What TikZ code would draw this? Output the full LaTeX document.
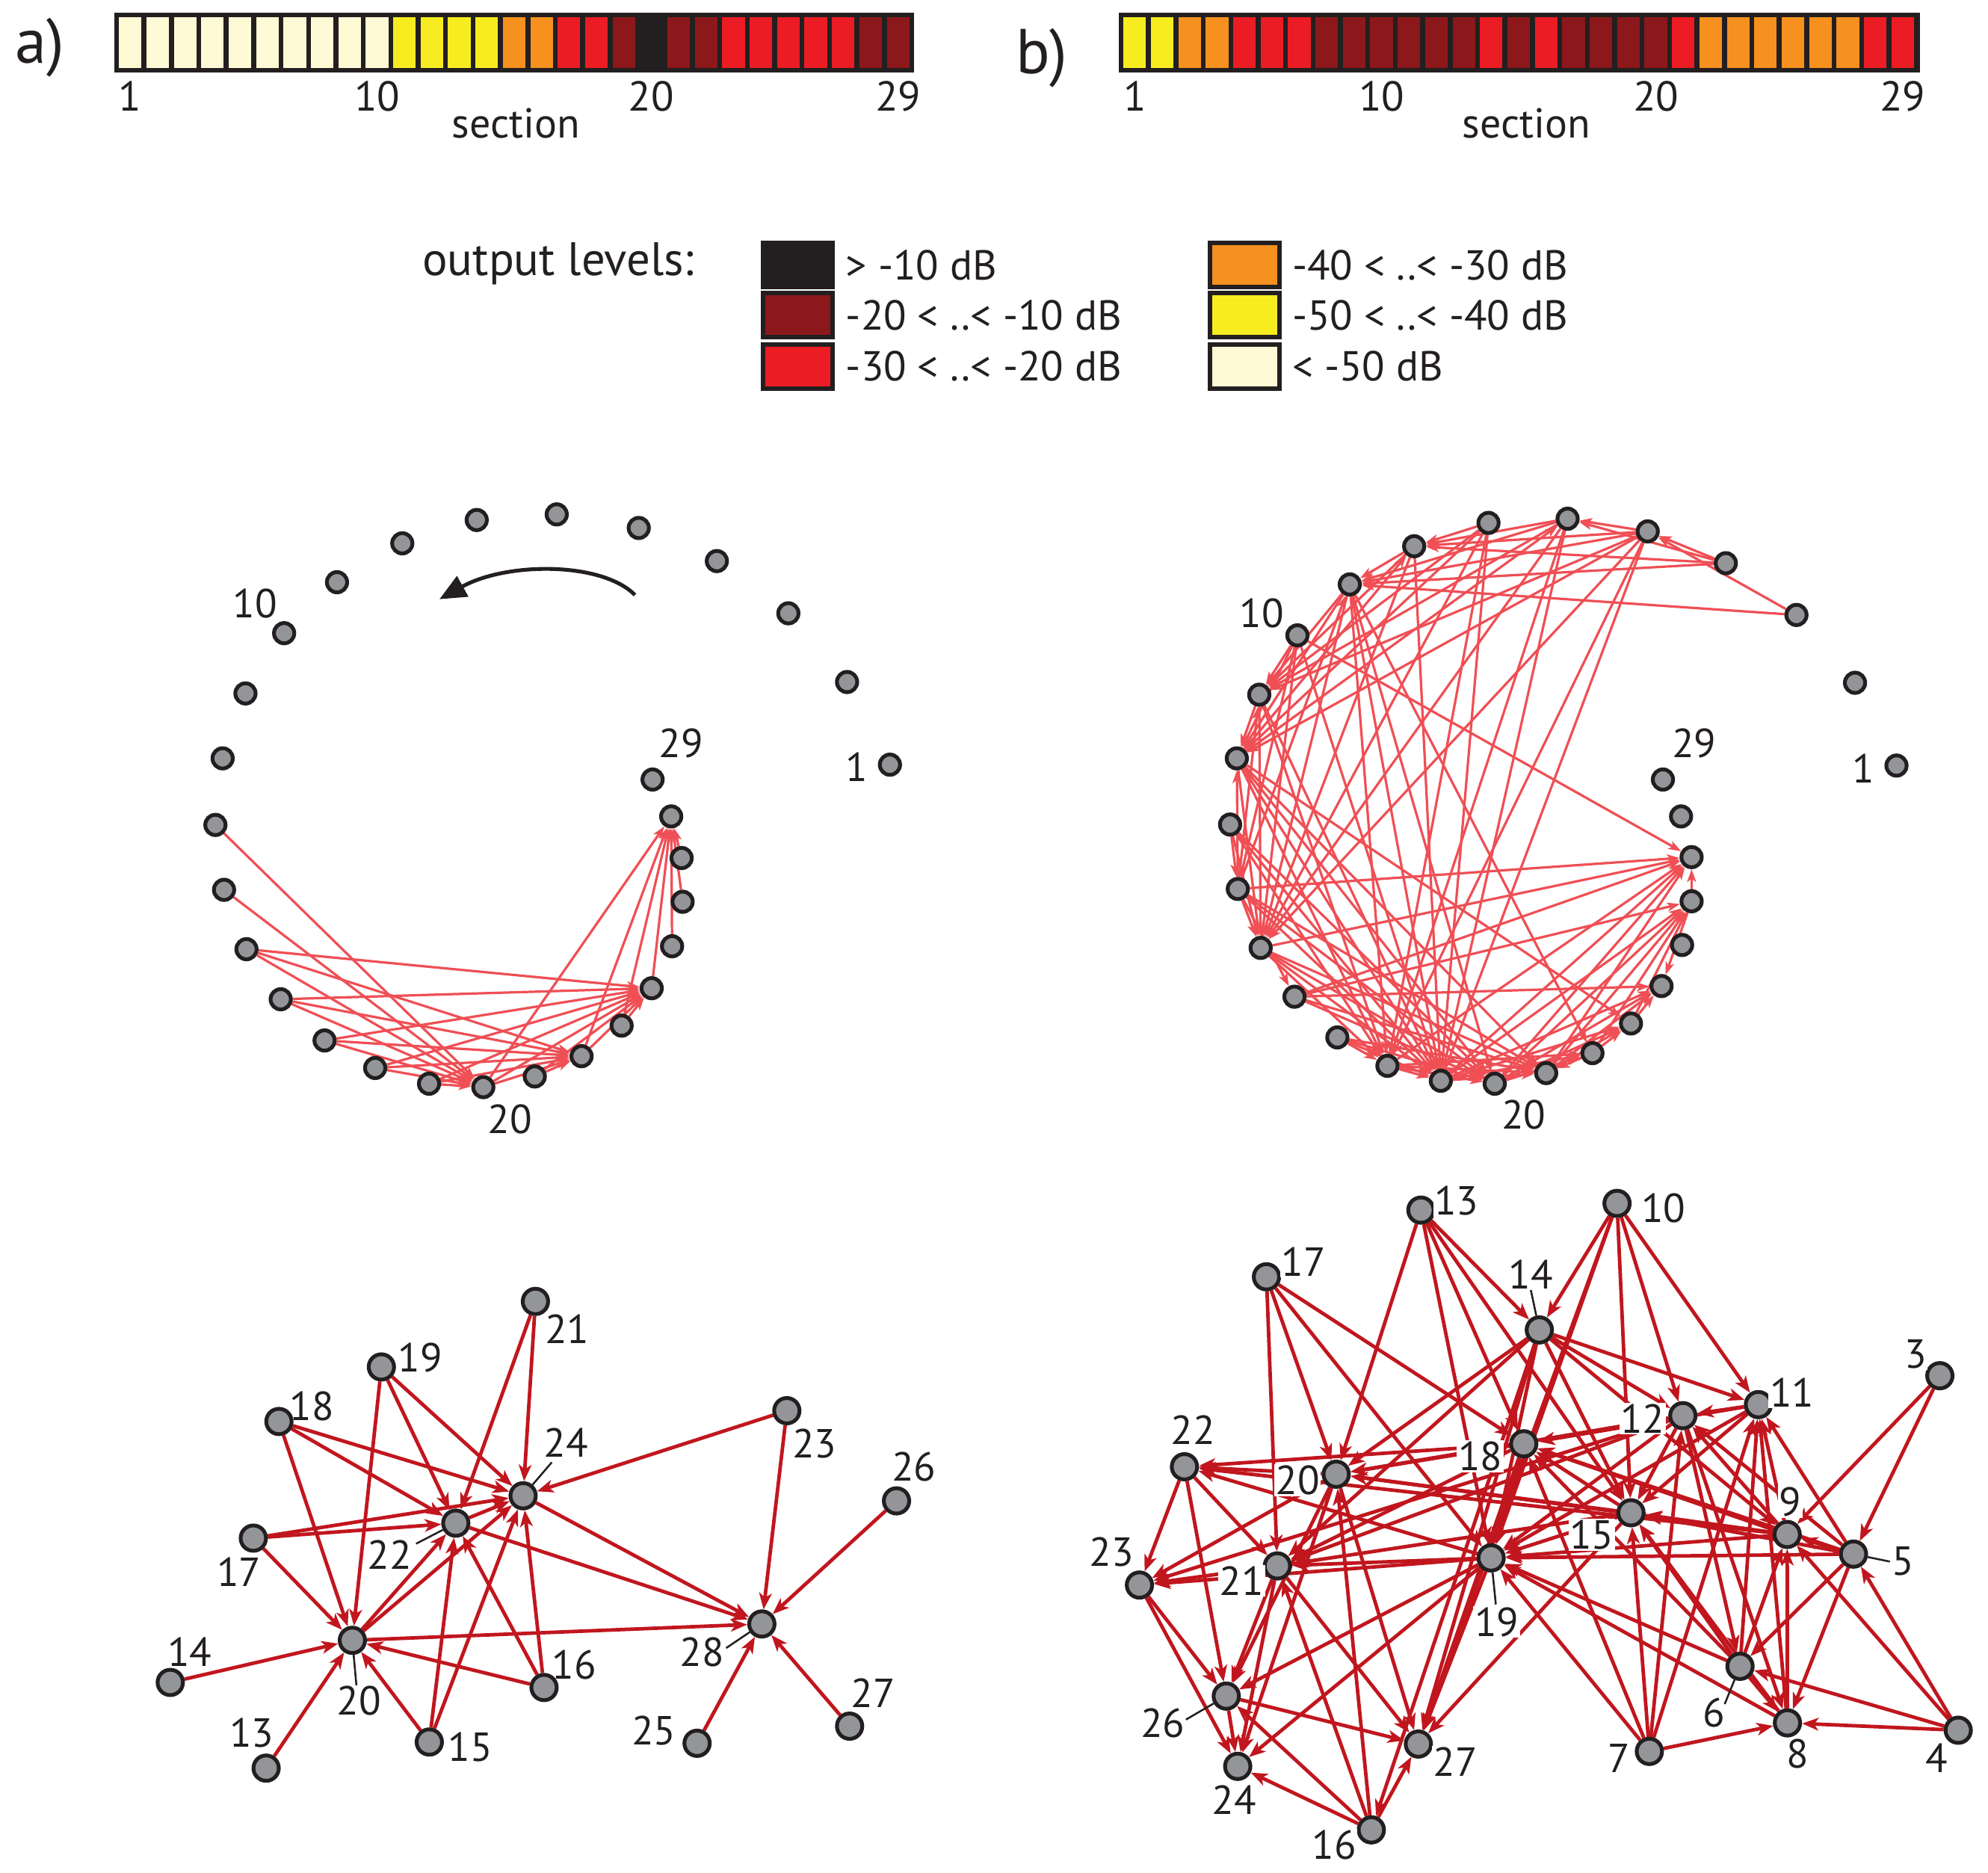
\documentclass[tikz,border=0pt]{standalone}
\usepackage{fontspec}
\setmainfont{PT Sans}
\usetikzlibrary{arrows.meta}
\pgfdeclarelayer{edges}
\pgfsetlayers{edges,main}
\definecolor{cream}{HTML}{FFFAD6}
\definecolor{yel}{HTML}{F7EC1F}
\definecolor{org}{HTML}{F6901F}
\definecolor{rd}{HTML}{EC1C24}
\definecolor{drd}{HTML}{8C181B}
\definecolor{blk}{HTML}{231F20}
\definecolor{ndgray}{HTML}{939598}
\definecolor{lred}{HTML}{EF4F55}
\definecolor{nred}{HTML}{C1161E}
\newcommand\figfont[1]{\fontsize{#1}{#1}\selectfont}
\tikzset{
 cnode/.style={circle, draw=blk, line width=3pt, fill=ndgray, minimum size=16pt, inner sep=0pt},
 nnode/.style={circle, draw=blk, line width=3pt, fill=ndgray, minimum size=20pt, inner sep=0pt},
 cedge/.style={draw=lred, line width=1.9pt, -{Stealth[length=10pt,width=7pt,inset=2.5pt]}},
 nedge/.style={draw=nred, line width=2.8pt, -{Stealth[length=13pt,width=10pt,inset=3.5pt]}},
 lbl/.style={font=\figfont{32}, inner sep=0pt, text=blk},
 blbl/.style={font=\figfont{32}, inner sep=1pt, fill=white, text=blk},
 barl/.style={font=\figfont{33}, inner sep=0pt, anchor=base, text=blk},
 leader/.style={draw=blk, line width=1.5pt},
 lgbox/.style={draw=blk, line width=3.5pt, minimum width=54.8pt, minimum height=34.7pt, inner sep=0pt},
 lgtext/.style={font=\figfont{33}, anchor=base west, inner sep=0pt, text=blk},
}
\begin{document}
\begin{tikzpicture}[x=1pt,y=-1pt]
\useasboundingbox (0,0) rectangle (1568,1477);

% ---------- titles ----------
\node[font=\figfont{50}, anchor=base west, inner sep=0pt, text=blk] (ta) at (12,50) {a)};
\node[font=\figfont{50}, anchor=base west, inner sep=0pt, text=blk] (tb) at (801,58) {b)};

% ---------- colour bars ----------
\fill[blk] (90,10) rectangle (721,57);
\foreach \c [count=\i] in {cream,cream,cream,cream,cream,cream,cream,cream,cream,cream,yel,yel,yel,yel,org,org,rd,rd,drd,blk,drd,drd,rd,rd,rd,rd,rd,drd,drd}
  \fill[\c] ({93.8+(\i-1)*21.63},13.4) rectangle ++(17.83,40);
\fill[blk] (882.3,10) rectangle (1514.3,57);
\foreach \c [count=\i] in {yel,yel,org,org,rd,rd,rd,drd,drd,drd,drd,drd,drd,rd,drd,rd,drd,drd,drd,drd,rd,org,org,org,org,org,org,rd,rd}
  \fill[\c] ({886.1+(\i-1)*21.63},13.4) rectangle ++(17.83,40);

\node[barl] (ba1) at (102.7,87.4) {1};
\node[barl] (ba10) at (297.4,87.4) {10};
\node[barl] (ba20) at (513.7,87.4) {20};
\node[barl] (ba29) at (708.4,87.4) {29};
\node[barl] (bas) at (407,109) {section};
\node[barl] (bb1) at (895,87.4) {1};
\node[barl] (bb10) at (1089.7,87.4) {10};
\node[barl] (bb20) at (1306,87.4) {20};
\node[barl] (bb29) at (1500.7,87.4) {29};
\node[barl] (bbs) at (1203.8,109) {section};

% ---------- legend ----------
\node[font=\figfont{37}, anchor=base west, inner sep=0pt, text=blk] (ol) at (333,217) {output levels:};
\node[lgbox, fill=blk] (lg1) at (629.05,208.8) {};
\node[lgbox, fill=drd] (lg2) at (629.05,248.5) {};
\node[lgbox, fill=rd] (lg3) at (629.05,288.9) {};
\node[lgbox, fill=org] (lg4) at (982,208.8) {};
\node[lgbox, fill=yel] (lg5) at (982,248.5) {};
\node[lgbox, fill=cream] (lg6) at (982,288.9) {};
\node[lgtext] (lt1) at (667,221) {> -10 dB};
\node[lgtext] (lt2) at (667,260.5) {-20 < ..< -10 dB};
\node[lgtext] (lt3) at (667,300.5) {-30 < ..< -20 dB};
\node[lgtext] (lt4) at (1019,221) {-40 < ..< -30 dB};
\node[lgtext] (lt5) at (1019,260.5) {-50 < ..< -40 dB};
\node[lgtext] (lt6) at (1019,300.5) {< -50 dB};

% ---------- circle a ----------
\foreach \x/\y [count=\i] in {701.9/603.1,668.1/537.9,621.8/483.7,565.4/442.5,503.8/416.4,439.1/405.7,376.0/410.1,317.3/428.5,265.8/459.2,224.1/499.4,193.6/546.9,175.6/598.1,169.9/650.6,176.7/701.8,194.4/748.6,221.4/788.1,256.0/820.6,295.9/842.3,338.4/854.7,381.2/857.4,421.8/849.0,458.7/833.0,490.3/808.9,514.0/779.4,530.1/746.3,538.4/711.2,537.6/676.7,529.4/643.9,514.7/614.8}
  \node[cnode] (ca\i) at (\x,\y) {};
\node[lbl] (cal10) at (201.1,476) {10};
\node[lbl] (cal29) at (537.2,586.4) {29};
\node[lbl] (cal1) at (675.6,604.8) {1};
\node[lbl] (cal20) at (402.3,882.5) {20};
\coordinate (arcS) at (500.8,469.3);
\coordinate (arcE) at (346.6,472.6);
\draw[line width=3pt, blk, -{Triangle[length=21pt,width=18pt]}] (arcS) .. controls (475,443) and (400,443) .. (arcE);

% ---------- circle b ----------
\foreach \x/\y [count=\i] in {1495.8/603.8,1463.1/538.5,1416.9/485.0,1361.2/444.2,1299.6/419.1,1236.4/409.1,1174.0/412.4,1115.4/430.8,1064.6/460.9,1023.3/501.1,993.2/547.9,975.5/598.1,970.2/650.3,976.3/701.1,994.3/747.6,1021.0/786.1,1054.8/818.2,1094.3/840.6,1136.4/852.4,1178.9/854.7,1219.5/846.3,1256.0/830.6,1286.4/807.2,1310.5/777.7,1326.7/745.3,1334.2/710.8,1334.2/676.0,1325.9/643.9,1311.6/614.8}
  \node[cnode] (cb\i) at (\x,\y) {};
\node[lbl] (cbl10) at (995.1,483.7) {10};
\node[lbl] (cbl29) at (1336.1,586.4) {29};
\node[lbl] (cbl1) at (1469.5,605.8) {1};
\node[lbl] (cbl20) at (1201.8,879.1) {20};

% ---------- network a ----------
\foreach \n/\x/\y in {13/209.9/1394.5,14/134.3/1326.9,15/338.6/1373.9,16/429.1/1330.9,17/199.8/1213.1,18/220.0/1121.1,19/300.8/1078.1,20/277.9/1293.7,21/422.3/1026.4,22/359.5/1201.3,23/620.6/1112.6,24/412.6/1179.7,25/549.8/1374.9,26/707.1/1183.7,27/670.1/1361.4,28/600.9/1280.8}
  \node[nnode] (na\n) at (\x,\y) {};
\foreach \n/\x/\y in {21/447.2/1048.4,19/331.4/1071,18/246.1/1109.3,24/446.4/1138.0,23/642.3/1138.7,26/720.8/1156.6,22/307.2/1226.0,17/188.6/1239.5,14/149.6/1302.8,20/283.1/1341.1,16/452.9/1313.3,28/553.8/1303.2,27/688.6/1335,13/198.6/1366.4,15/370.8/1377.6,25/515.6/1364.8}
  \node[lbl] (la\n) at (\x,\y) {\n};
\coordinate (ld24) at (435.2,1153.3);
\coordinate (ld22) at (328.2,1217.5);
\coordinate (ld20) at (281.1,1329.2);
\coordinate (ld28) at (572.7,1299.8);
\draw[leader] (ld24) -- (na24);
\draw[leader] (ld22) -- (na22);
\draw[leader] (ld20) -- (na20);
\draw[leader] (ld28) -- (na28);

% ---------- network b ----------
\foreach \n/\x/\y in {3/1530.0/1085.0,4/1544.5/1364.6,5/1461.9/1225.7,6/1372.4/1314.2,7/1300.9/1381.3,8/1409.8/1358.8,9/1409.6/1210.2,10/1275.4/949.1,11/1386.9/1107.8,12/1327.3/1116.5,13/1120.7/954.4,14/1214.1/1048.9,15/1286.4/1193.1,16/1081.6/1443.2,17/998.9/1007.0,18/1201.8/1138.7,19/1176.1/1228.7,20/1053.9/1162.7,21/1007.5/1235.0,22/934.2/1156.8,23/898.7/1250.1,24/976.2/1393.1,26/967.2/1337.7,27/1118.7/1375.5}
  \node[nnode] (nb\n) at (\x,\y) {};
\foreach \n/\x/\y in {3/1510.7/1067.9,4/1527.7/1386.3,5/1500.9/1231.0,6/1351.8/1350.9,7/1276.8/1386.8,8/1417.6/1383.3,9/1412.1/1184.5,10/1312.1/953,11/1413.3/1098.4,12/1295.6/1119.0,13/1148.8/947.1,14/1207.4/1005.1,15/1255.5/1210.4,16/1052.2/1455.0,17/1028.3/995.2,18/1167.6/1148.5,19/1180.5/1279.2,20/1023.4/1167.6,21/979.4/1246.8,22/940.8/1127.9,23/876.7/1224.2,24/973.3/1419.7,26/917.1/1358.8,27/1148/1389.2}
  \node[blbl] (lb\n) at (\x,\y) {\n};
\coordinate (le14) at (1207.4,1017.4);
\coordinate (le19) at (1179.8,1265.4);
\coordinate (le26) at (935.4,1356.2);
\coordinate (le5) at (1490.6,1231.6);
\coordinate (le6) at (1360.3,1344.0);
\draw[leader] (le14) -- (nb14);
\draw[leader] (le19) -- (nb19);
\draw[leader] (le26) -- (nb26);
\draw[leader] (le5) -- (nb5);
\draw[leader] (le6) -- (nb6);

% ---------- edges ----------
\begin{pgfonlayer}{edges}
\foreach \s/\t in {13/20,14/20,15/20,16/20,17/20,18/20,19/20,15/22,16/22,17/22,18/22,19/22,20/22,21/22,15/24,16/24,17/24,18/24,19/24,20/24,21/24,22/24,23/24,20/28,22/28,23/28,24/28,25/28,26/28,27/28}
{
  \draw[cedge] (ca\s) -- (ca\t);
  \draw[nedge] (na\s) -- (na\t);
}
\foreach \s/\t in {13/14,13/18,13/19,13/20,13/15,17/18,17/19,17/20,17/21,10/11,10/12,10/14,10/15,10/19,10/27,3/5,3/9,4/5,4/6,4/8,4/9,7/8,7/11,7/12,7/15,7/18,7/19,14/11,14/12,14/15,14/9,14/19,14/20,14/21,14/27,14/16,18/19,18/20,18/21,18/22,18/27,12/18,12/19,12/20,12/21,12/23,12/15,12/6,12/8,11/12,11/15,11/18,11/19,9/11,9/12,9/15,9/18,9/19,9/22,9/20,5/9,5/11,5/12,5/15,5/19,5/6,5/8,5/18,6/8,6/9,6/11,6/18,6/19,6/15,8/9,8/11,8/15,8/19,15/18,15/19,15/20,15/21,15/27,19/21,19/24,19/26,19/27,19/22,19/23,20/22,20/23,20/24,20/26,20/27,21/23,21/24,21/26,21/27,22/23,22/26,22/21,23/24,23/26,26/24,26/27,16/24,16/27,16/20,16/21,16/26}
{
  \draw[cedge] (cb\s) -- (cb\t);
  \draw[nedge] (nb\s) -- (nb\t);
}
\end{pgfonlayer}
\end{tikzpicture}
\end{document}
